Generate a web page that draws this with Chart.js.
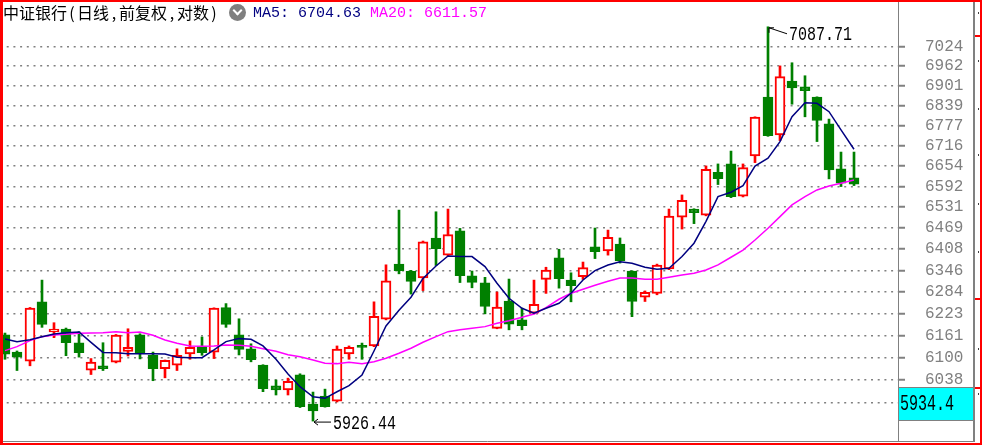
<!DOCTYPE html>
<html lang="zh-CN">
<head>
<meta charset="utf-8">
<title>中证银行 日线</title>
<script src="https://cdn.jsdelivr.net/npm/chart.js@4.4.1/dist/chart.umd.min.js"></script>
<style>
  html, body { margin: 0; padding: 0; background: #fff; }
  #wrap { position: relative; width: 983px; height: 445px; overflow: hidden; }
  #kline { position: absolute; left: 0; top: 0; }
  .hdr { position: absolute; white-space: nowrap; }
  #title { left: 3px; top: 2px; font: 16px/20px "Noto Sans CJK SC", sans-serif; color: #000; }
  #title .p { display: inline-block; width: 10px; text-align: center; }
  #icon { left: 229px; top: 4px; width: 17px; height: 17px; border-radius: 50%; background: #7f7f7f; }
  #icon::after { content: ""; position: absolute; left: 5px; top: 3px; width: 5px; height: 5px;
                 border-right: 2px solid #fff; border-bottom: 2px solid #fff; transform: rotate(45deg); }
  .ma { top: 5px; font: 15px/17px "Liberation Mono", monospace; }
</style>
</head>
<body>
<div id="wrap">
  <canvas id="kline" width="983" height="445"></canvas>
  <div class="hdr" id="title">中证银行<span class="p">(</span>日线<span class="p">,</span>前复权<span class="p">,</span>对数<span class="p">)</span></div>
  <div class="hdr" id="icon"></div>
  <div class="hdr ma" id="ma5Label" style="left:253px;color:#000080"></div>
  <div class="hdr ma" id="ma20Label" style="left:370px;color:#ff00ff"></div>
</div>
<script>
// 日K线 (开/高/低/收), 从左到右共70根
const candleOpen = [
  6163, 6115, 6090, 6256, 6171, 6179, 6141, 6065, 6077, 6087,
  6117, 6163, 6106, 6069, 6079, 6110, 6130, 6115, 6240, 6163,
  6124, 6079, 6022, 6011, 6052, 5972, 5994, 5980, 6110, 6132,
  6132, 6207, 6364, 6343, 6324, 6440, 6390, 6461, 6330, 6310,
  6181, 6258, 6205, 6224, 6320, 6382, 6318, 6328, 6414, 6402,
  6422, 6344, 6269, 6280, 6350, 6501, 6525, 6507, 6635, 6660,
  6563, 6684, 6865, 6748, 6915, 6897, 6865, 6782, 6645, 6618
];
const candleHigh = [
  6168, 6118, 6240, 6318, 6197, 6182, 6172, 6097, 6141, 6164,
  6180, 6166, 6115, 6093, 6124, 6146, 6157, 6239, 6251, 6208,
  6138, 6080, 6038, 6043, 6055, 6005, 6013, 6132, 6132, 6140,
  6256, 6362, 6522, 6346, 6431, 6517, 6525, 6468, 6344, 6326,
  6284, 6321, 6238, 6318, 6355, 6407, 6339, 6370, 6469, 6463,
  6440, 6345, 6287, 6364, 6525, 6567, 6526, 6654, 6660, 6699,
  6660, 6804, 7087.71, 6963, 6973, 6932, 6866, 6797, 6696, 6696
];
const candleLow = [
  6095, 6064, 6077, 6184, 6155, 6105, 6101, 6053, 6064, 6085,
  6104, 6096, 6036, 6044, 6064, 6095, 6106, 6097, 6184, 6107,
  6088, 6006, 5997, 5997, 5963, 5926.44, 5964, 5978, 6095, 6095,
  6130, 6205, 6336, 6278, 6288, 6360, 6388, 6311, 6296, 6222,
  6180, 6177, 6177, 6222, 6280, 6295, 6256, 6320, 6380, 6390,
  6367, 6214, 6257, 6276, 6348, 6466, 6482, 6505, 6598, 6559,
  6561, 6664, 6744, 6731, 6843, 6804, 6728, 6615, 6592, 6595
];
const candleClose = [
  6109, 6101, 6238, 6192, 6179, 6141, 6113, 6087, 6069, 6162,
  6128, 6111, 6069, 6092, 6106, 6128, 6113, 6238, 6192, 6122,
  6094, 6014, 6011, 6034, 5965, 5954, 5965, 6123, 6128, 6128,
  6215, 6316, 6345, 6314, 6429, 6409, 6450, 6331, 6311, 6243,
  6241, 6193, 6189, 6249, 6347, 6322, 6302, 6354, 6400, 6442,
  6373, 6257, 6283, 6361, 6504, 6551, 6514, 6644, 6616, 6562,
  6649, 6803, 6746, 6929, 6894, 6885, 6793, 6642, 6602, 6599
];
const ma5 = [
  6151.5, 6144, 6149.5, 6157.9, 6165.5, 6169.1, 6171.1, 6142, 6114, 6113.4,
  6110.6, 6110.6, 6110.6, 6109.7, 6100.6, 6099.5, 6099.5, 6120.9, 6144, 6152.4,
  6150.7, 6132, 6095, 6054.5, 6019.6, 5992.2, 5988, 6005.9, 6022.4, 6051.8,
  6118, 6188, 6232, 6269, 6323, 6358.7, 6387.8, 6385.8, 6385.8, 6356.7,
  6309, 6266.2, 6237.8, 6223.6, 6237.8, 6252, 6280.3, 6318.4, 6345.1, 6361.6,
  6371.1, 6366.5, 6354.9, 6349.2, 6352, 6385.8, 6424.6, 6488.8, 6562, 6575.1,
  6594.7, 6653.7, 6677.3, 6727.6, 6804.5, 6847.7, 6845.9, 6819.9, 6763.5, 6704.63
];
const ma20 = [
  6118.9, 6130.1, 6146.8, 6157.9, 6162.7, 6164.6, 6167.5, 6168.3, 6169.1, 6171.9,
  6169.1, 6171.1, 6161.8, 6148.7, 6139.5, 6132, 6131.2, 6132, 6134.8, 6134,
  6131.2, 6124.5, 6117.3, 6107.8, 6102.2, 6093.1, 6084, 6083, 6086.8, 6083,
  6088.4, 6097.8, 6111.7, 6125.6, 6142.3, 6157.9, 6171.9, 6177.5, 6181.5, 6186,
  6195.5, 6202.8, 6212.3, 6221.6, 6239.5, 6263.3, 6280.3, 6291.7, 6303.2, 6314.7,
  6324.2, 6324.2, 6320.4, 6320.4, 6326.2, 6332.8, 6337.7, 6347.2, 6361.6, 6383.9,
  6404.8, 6433.9, 6468.4, 6502.7, 6537.3, 6562, 6581.9, 6593.8, 6601.9, 6611.57
];
const yTicks = [5976, 6038, 6100, 6161, 6223, 6284, 6346, 6408, 6469, 6531,
                6592, 6654, 6716, 6777, 6839, 6901, 6962, 7024];
const yTickLabels = ['', '6038', '6100', '6161', '6223', '6284', '6346', '6408', '6469', '6531',
                     '6592', '6654', '6716', '6777', '6839', '6901', '6962', '7024'];
const cursorValue = 5934.4;

const upColor = '#ff0000';
const downColor = '#008000';
const isUp = candleClose.map((c, i) => c >= candleOpen[i]);

document.getElementById('ma5Label').textContent = 'MA5: ' + ma5[ma5.length - 1].toFixed(2);
document.getElementById('ma20Label').textContent = 'MA20: ' + ma20[ma20.length - 1].toFixed(2);

// 纵向拉长的数字 (原图是点阵字体)
function tallText(ctx, str, x, yMid, stretch, color) {
  ctx.save();
  ctx.translate(x, yMid);
  ctx.scale(1, stretch);
  ctx.font = '15px "Liberation Mono"';
  ctx.fillStyle = color;
  ctx.textBaseline = 'middle';
  ctx.textAlign = 'left';
  ctx.fillText(str, 0, 0);
  ctx.restore();
}

const framePlugin = {
  id: 'frame',
  afterDraw(chart) {
    const { ctx, chartArea, scales: { x, y } } = chart;
    const right = chartArea.right;

    // 最高 / 最低 标注
    const hi = Math.max(...candleHigh);
    const lo = Math.min(...candleLow);
    const hx = x.getPixelForValue(candleHigh.indexOf(hi) + 1);
    const hy = y.getPixelForValue(hi);
    const lx = x.getPixelForValue(candleLow.indexOf(lo) + 1);
    const ly = y.getPixelForValue(lo);
    ctx.save();
    ctx.strokeStyle = '#000';
    ctx.lineWidth = 1;
    ctx.beginPath();
    ctx.moveTo(hx + 1, hy + 1); ctx.lineTo(hx + 19, hy + 7);
    ctx.moveTo(hx + 1, hy + 1); ctx.lineTo(hx + 6, hy + 1);
    ctx.moveTo(hx + 1, hy + 1); ctx.lineTo(hx + 1, hy + 6);
    ctx.moveTo(lx + 1, ly + 1); ctx.lineTo(lx + 18, ly + 1);
    ctx.moveTo(lx + 1, ly + 1); ctx.lineTo(lx + 5, ly - 2);
    ctx.moveTo(lx + 1, ly + 1); ctx.lineTo(lx + 5, ly + 4);
    ctx.stroke();
    ctx.restore();
    tallText(ctx, hi.toFixed(2), hx + 21, hy + 8, 1.4, '#000');
    tallText(ctx, lo.toFixed(2), lx + 20, ly + 2, 1.4, '#000');

    // 右侧价格框
    ctx.save();
    ctx.fillStyle = '#00ffff';
    ctx.fillRect(right + 1, 388, 74, 32);
    ctx.restore();
    tallText(ctx, cursorValue.toFixed(1), right + 2, 404, 1.5, '#000');

    // 边框
    ctx.save();
    ctx.strokeStyle = '#808080';
    ctx.lineWidth = 1;
    ctx.beginPath();
    ctx.moveTo(right + 0.5, 0); ctx.lineTo(right + 0.5, 442);
    ctx.moveTo(0, 441.5); ctx.lineTo(975, 441.5);
    ctx.moveTo(right, 387.5); ctx.lineTo(975, 387.5);
    ctx.moveTo(right, 420.5); ctx.lineTo(975, 420.5);
    ctx.stroke();
    ctx.lineWidth = 2;
    ctx.beginPath();
    ctx.moveTo(974, 0); ctx.lineTo(974, 442);
    ctx.stroke();
    ctx.fillStyle = '#ff0000';
    ctx.fillRect(0, 0, 981, 2);
    ctx.fillRect(0, 0, 3, 445);
    ctx.fillRect(0, 443, 981, 2);
    ctx.fillRect(980, 0, 2, 445);
    [35, 298, 387].forEach(v => ctx.fillRect(975, v, 5, 2));
    ctx.fillStyle = '#404040';
    [12, 60, 108, 154, 203, 251, 348, 393].forEach(v => ctx.fillRect(978, v, 1, 2));
    ctx.restore();
  }
};

new Chart(document.getElementById('kline'), {
  type: 'bar',
  data: {
    datasets: [
      {
        label: 'MA5',
        type: 'line',
        data: ma5.map((v, i) => ({ x: i + 1, y: v })),
        borderColor: '#000080',
        borderWidth: 1.5,
        pointRadius: 0,
        tension: 0,
        order: 1
      },
      {
        label: 'MA20',
        type: 'line',
        data: ma20.map((v, i) => ({ x: i + 1, y: v })),
        borderColor: '#ff00ff',
        borderWidth: 1.5,
        pointRadius: 0,
        tension: 0,
        order: 2
      },
      {
        label: '实体',
        data: candleOpen.map((o, i) => ({ x: i + 1, y: [o, candleClose[i]] })),
        backgroundColor: isUp.map(u => u ? '#ffffff' : downColor),
        borderColor: isUp.map(u => u ? upColor : downColor),
        borderWidth: 2,
        borderSkipped: false,
        barThickness: 10,
        minBarLength: 2,
        grouped: false,
        order: 3
      },
      {
        label: '影线',
        data: candleLow.map((l, i) => ({ x: i + 1, y: [l, candleHigh[i]] })),
        backgroundColor: isUp.map(u => u ? upColor : downColor),
        borderWidth: 0,
        barThickness: 2,
        grouped: false,
        order: 4
      }
    ]
  },
  options: {
    responsive: false,
    animation: false,
    devicePixelRatio: 1,
    layout: { padding: { left: 0, right: 0, top: 2, bottom: 4 }, autoPadding: false },
    plugins: {
      legend: { display: false },
      tooltip: { enabled: false }
    },
    scales: {
      x: { type: 'linear', display: false, offset: false, alignToPixels: true, min: 0.5935, max: 73.6016 },
      y: {
        type: 'logarithmic',
        position: 'right',
        min: 5873.1,
        max: 7167.9,
        bounds: 'data',
        afterBuildTicks: s => { s.ticks = yTicks.map(v => ({ value: v })); },
        afterFit: s => {
          s.width = 85;
          s.paddingTop = 0;
          s.paddingBottom = 0;
        },
        grid: {
          color: '#808080',
          lineWidth: 1.5,
          tickLength: 7,
          tickColor: '#808080',
          tickWidth: 2
        },
        border: { display: false, dash: [2, 4.7] },
        ticks: {
          autoSkip: false,
          padding: 20,
          crossAlign: 'near',
          color: '#808080',
          font: { family: 'Liberation Mono', size: 16 },
          callback: (v, i) => yTickLabels[i]
        }
      }
    }
  },
  plugins: [framePlugin]
});
</script>
</body>
</html>
